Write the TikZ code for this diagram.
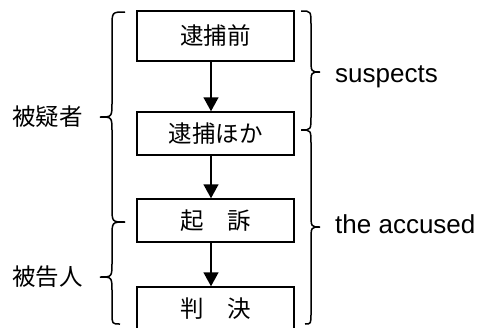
\documentclass[tikz,border=0pt]{standalone}
\usepackage{fontspec}
\setmainfont{Liberation Sans}
\newfontfamily\cjk{Noto Sans CJK JP}
\usetikzlibrary{arrows.meta}
\begin{document}
\begin{tikzpicture}[x=1pt,y=-1pt,
  stepbox/.style={draw,line width=1.5pt,minimum width=157pt,inner sep=0pt,font=\cjk\fontsize{23.5}{26}\selectfont},
  arr/.style={line width=1.5pt,-{Triangle[length=14pt,width=15pt]}},
  brc/.style={line width=1.5pt},
  cjklab/.style={inner sep=0pt,font=\cjk\fontsize{23.5}{26}\selectfont},
  enlab/.style={inner sep=0pt,font=\fontsize{26}{30}\selectfont}]
\useasboundingbox (0,0) rectangle (486,327);
\node[stepbox,minimum height=50pt] (b1) at (215.5,36) {逮捕前};
\node[stepbox,minimum height=43pt] (b2) at (215.5,133.5) {逮捕ほか};
\node[stepbox,minimum height=43pt] (b3) at (215.5,220.5) {起　訴};
\node[stepbox,minimum height=44pt] (b4) at (215.5,309) {判　決};
\coordinate (ax) at (211,0);
\draw[arr] (b1.south -| ax) -- (b2.north -| ax);
\draw[arr] (b2.south -| ax) -- (b3.north -| ax);
\draw[arr] (b3.south -| ax) -- (b4.north -| ax);
% left braces
\draw[brc] (125,12) .. controls (112,12) .. (112,27) -- (112,102) .. controls (112,117) .. (100,117) .. controls (112,117) .. (112,132) -- (112,207) .. controls (112,222) .. (125,222);
\draw[brc] (125,222) .. controls (112,222) .. (112,237) -- (112,262) .. controls (112,277) .. (100,277) .. controls (112,277) .. (112,292) -- (112,313) .. controls (112,324) .. (120,324);
% right braces
\draw[brc] (301,11) .. controls (311,11) .. (311,25) -- (311,58) .. controls (311,72) .. (320,72) .. controls (311,72) .. (311,86) -- (311,116) .. controls (311,130) .. (301,130);
\draw[brc] (301,130) .. controls (311,130) .. (311,144) -- (311,213) .. controls (311,227) .. (320,227) .. controls (311,227) .. (311,241) -- (311,313) .. controls (311,324) .. (305,324);
\node[cjklab,anchor=east] (l1) at (83,117) {被疑者};
\node[cjklab,anchor=east] (l2) at (83,277) {被告人};
\node[enlab,anchor=base west] (r1) at (335,82) {suspects};
\node[enlab,anchor=base west] (r2) at (335,233) {the accused};
\end{tikzpicture}
\end{document}
